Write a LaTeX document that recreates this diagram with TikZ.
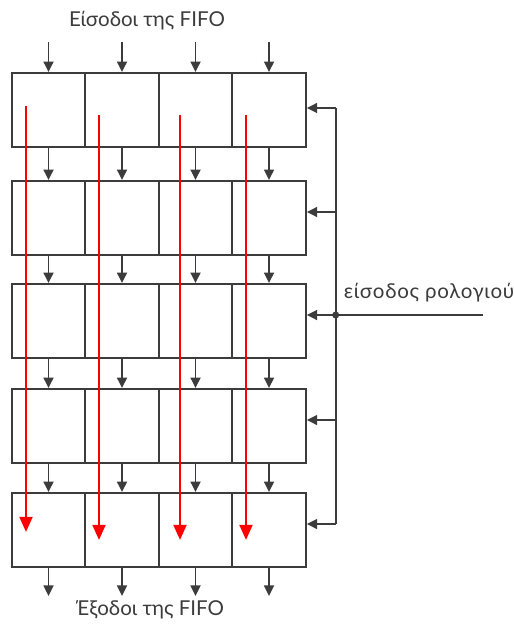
\documentclass[tikz,border=0pt]{standalone}
\usepackage{fontspec}
\setmainfont{Lato}
\usepackage{tikz}
\usetikzlibrary{positioning, calc, arrows.meta}
\definecolor{linegray}{HTML}{3C3C3C}
\tikzset{
	cell/.style={draw=linegray, line width=1.6pt, minimum width=2.205cm, minimum height=2.22cm, inner sep=0pt},
	flow/.style={draw=linegray, line width=1.6pt, -{Triangle[length=9pt, width=8.5pt]}},
	redflow/.style={draw=red, line width=2.3pt, -{Triangle[length=13pt, width=11pt]}},
	labeltext/.style={font=\fontsize{17.5}{21}\selectfont\color{linegray}}
}
\begin{document}
\begin{tikzpicture}[x=0.03cm, y=-0.03cm]
      \useasboundingbox (0,0) rectangle (513,628);
      % register cells, 5 rows x 4 columns
      \foreach \r/\ry in {1/110, 2/218, 3/321, 4/426, 5/530} {
        \foreach \c/\cx in {1/48.5, 2/122, 3/195.5, 4/269} {
          \node[cell] (r\r c\c) at (\cx,\ry) {};
        }
      }
      \node[labeltext] (inlabel) at (147,21) {Είσοδοι της FIFO};
      \node[labeltext] (outlabel) at (150,610) {Έξοδοι της FIFO};
      \node[labeltext] (clklabel) at (429,293) {\addfontfeatures{LetterSpace=3.5}είσοδος ρολογιού};
      % inputs, shifts and outputs
      \foreach \c in {1,...,4} {
        \coordinate (in\c) at ($(r1c\c.north)+(0,-30)$);
        \coordinate (out\c) at ($(r5c\c.south)+(0,28)$);
        \draw[flow] (in\c) -- (r1c\c.north);
        \draw[flow] (r1c\c.south) -- (r2c\c.north);
        \draw[flow] (r2c\c.south) -- (r3c\c.north);
        \draw[flow] (r3c\c.south) -- (r4c\c.north);
        \draw[flow] (r4c\c.south) -- (r5c\c.north);
        \draw[flow] (r5c\c.south) -- (out\c);
      }
      % clock distribution
      \coordinate (clktop) at ($(r1c4.east)+(29,-2)$);
      \coordinate (clkbot) at ($(r5c4.east)+(29,-6)$);
      \coordinate (junction) at ($(r3c4.east)+(29,-6)$);
      \coordinate (clkin) at ($(junction)+(147,0)$);
      \draw[linegray, line width=1.6pt] (clktop) -- (clkbot);
      \draw[linegray, line width=1.6pt] (clkin) -- (junction);
      \fill[linegray] (junction) circle (3pt);
      \foreach \r/\dy in {1/-2, 2/-6, 3/-6, 4/-6, 5/-6} {
        \draw[flow] ($(r\r c4.east)+(29,\dy)$) -- ($(r\r c4.east)+(0,\dy)$);
      }
      % data path through the queue
      \draw[redflow] ($(r1c1.center)+(-22.5,-4)$) -- ($(r5c1.center)+(-22.5,2)$);
      \draw[redflow] ($(r1c2.center)+(-23,5)$) -- ($(r5c2.center)+(-23,10)$);
      \draw[redflow] ($(r1c3.center)+(-15.5,5)$) -- ($(r5c3.center)+(-15.5,10)$);
      \draw[redflow] ($(r1c4.center)+(-23,5)$) -- ($(r5c4.center)+(-23,10)$);
    \end{tikzpicture}
\end{document}
